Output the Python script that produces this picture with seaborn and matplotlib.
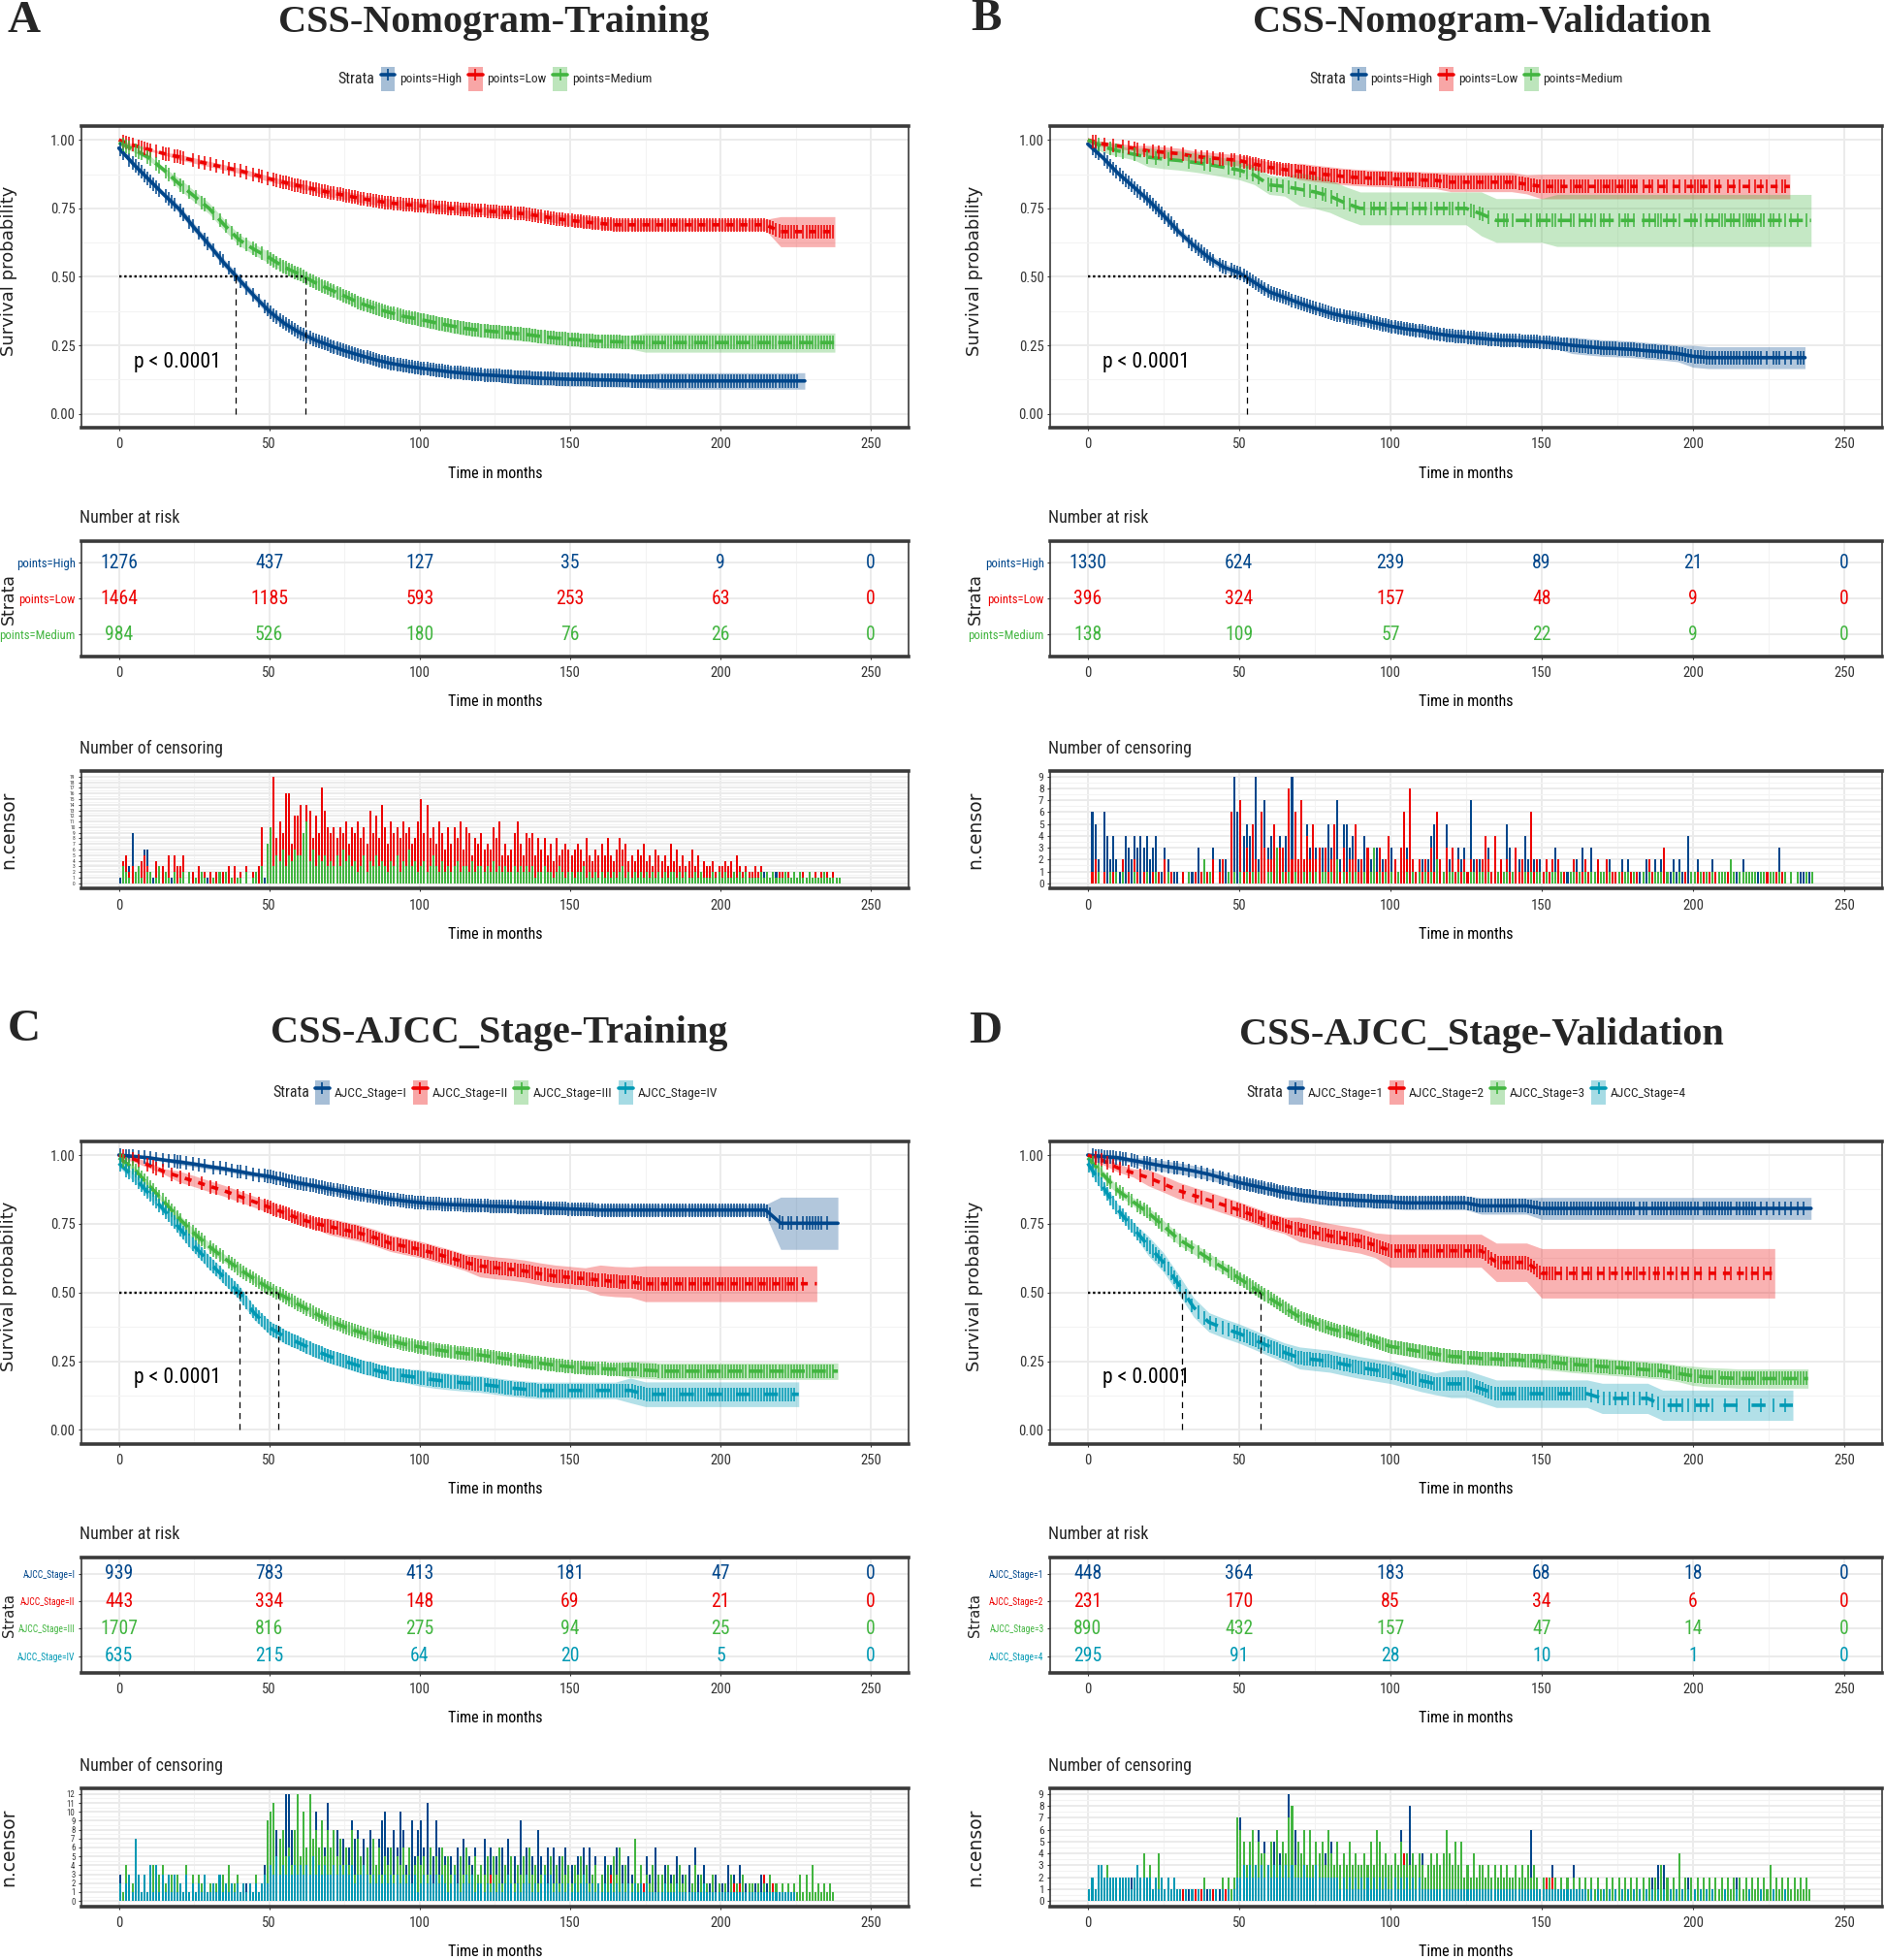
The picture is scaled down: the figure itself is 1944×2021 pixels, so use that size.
import numpy as np
import pandas as pd
import matplotlib
matplotlib.use("Agg")
import matplotlib.pyplot as plt
import seaborn as sns
from matplotlib import font_manager
from matplotlib.lines import Line2D
from matplotlib.patches import Patch

# ---------------- data ----------------
risk_times = [0, 50, 100, 150, 200, 250]
colors = ["#00468B", "#ED0000", "#42B540", "#0099B4"]
dash_styles = ["", (2, 2), (4, 2), (4, 4)]

# survival estimates on a 5-month grid (0, 5, 10, ...), flat to the last follow-up time
a_labels = ["points=High", "points=Low", "points=Medium"]
a_ends = [228, 238, 238]
a_medians = [38.7, 62]
a_high_surv = [0.97, 0.91, 0.855, 0.80, 0.748, 0.68, 0.617, 0.55, 0.49, 0.43,
               0.374, 0.33, 0.297, 0.27, 0.25, 0.23, 0.214, 0.198, 0.185, 0.175,
               0.167, 0.16, 0.153, 0.148, 0.143, 0.14, 0.136, 0.133, 0.13, 0.128,
               0.126, 0.125, 0.124, 0.123, 0.121] + [0.12] * 11
a_low_surv = [1.0, 0.98, 0.965, 0.95, 0.938, 0.925, 0.912, 0.90, 0.888, 0.873,
              0.858, 0.845, 0.832, 0.82, 0.808, 0.798, 0.787, 0.778, 0.77, 0.764,
              0.76, 0.755, 0.75, 0.746, 0.742, 0.738, 0.735, 0.73, 0.722, 0.713,
              0.706, 0.70, 0.695] + [0.69] * 11 + [0.665] * 4
a_med_surv = [0.99, 0.965, 0.935, 0.89, 0.84, 0.795, 0.75, 0.69, 0.635, 0.60,
              0.57, 0.535, 0.51, 0.48, 0.455, 0.43, 0.405, 0.385, 0.37, 0.355,
              0.345, 0.333, 0.322, 0.312, 0.305, 0.30, 0.295, 0.29, 0.283, 0.277,
              0.272, 0.268, 0.265, 0.263, 0.262] + [0.26] * 13
a_high_ci = [0.01] * 4 + [0.015] * 10 + [0.02] * 12 + [0.025] * 10 + [0.03] * 10
a_low_ci = [0.005] * 4 + [0.01] * 10 + [0.015] * 16 + [0.02] * 14 + [0.055] * 4
a_med_ci = [0.01] * 4 + [0.02] * 16 + [0.025] * 15 + [0.035] * 13
a_risk_high = [1276, 437, 127, 35, 9, 0]
a_risk_low = [1464, 1185, 593, 253, 63, 0]
a_risk_med = [984, 526, 180, 76, 26, 0]

b_labels = ["points=High", "points=Low", "points=Medium"]
b_ends = [237, 232, 239]
b_medians = [52.5]
b_high_surv = [0.985, 0.935, 0.878, 0.83, 0.78, 0.725, 0.665, 0.615, 0.57, 0.535,
               0.515, 0.48, 0.445, 0.425, 0.404, 0.385, 0.368, 0.355, 0.345, 0.332,
               0.32, 0.31, 0.303, 0.293, 0.285, 0.28, 0.275, 0.27, 0.268, 0.265,
               0.262, 0.257, 0.25, 0.245, 0.24, 0.238, 0.235, 0.23, 0.226, 0.22,
               0.21] + [0.205] * 7
b_low_surv = [1.0, 0.985, 0.978, 0.97, 0.96, 0.955, 0.95, 0.94, 0.935, 0.93,
              0.925, 0.912, 0.90, 0.892, 0.885, 0.878, 0.872, 0.866, 0.862, 0.86,
              0.858, 0.856, 0.854, 0.852] + [0.846] * 5 + [0.838] + [0.83] * 17
b_med_surv = [1.0, 0.975, 0.96, 0.948, 0.937, 0.93, 0.925, 0.918, 0.91, 0.90,
              0.89, 0.872, 0.836, 0.83, 0.82, 0.81, 0.795, 0.77] + [0.75] * 8 + [0.73] + [0.706] * 21
b_high_ci = [0.01] * 4 + [0.015] * 16 + [0.02] * 12 + [0.03] * 8 + [0.04] * 8
b_low_ci = [0.01] * 4 + [0.02] * 10 + [0.03] * 10 + [0.035] * 6 + [0.045] * 17
b_med_ci = [0.02] * 4 + [0.035] * 10 + [0.06] * 12 + [0.08] * 5 + [0.095] * 17
b_risk_high = [1330, 624, 239, 89, 21, 0]
b_risk_low = [396, 324, 157, 48, 9, 0]
b_risk_med = [138, 109, 57, 22, 9, 0]

c_labels = ["AJCC_Stage=I", "AJCC_Stage=II", "AJCC_Stage=III", "AJCC_Stage=IV"]
c_ends = [239, 232, 239, 226]
c_medians = [40, 53]
c_s1_surv = [1.0, 0.995, 0.99, 0.982, 0.975, 0.967, 0.958, 0.95, 0.94, 0.93,
             0.922, 0.91, 0.898, 0.888, 0.877, 0.867, 0.857, 0.848, 0.84, 0.833,
             0.827, 0.823, 0.82, 0.818, 0.816, 0.814, 0.812, 0.81, 0.808, 0.806,
             0.804, 0.802] + [0.80] * 12 + [0.752] * 4
c_s2_surv = [1.0, 0.985, 0.963, 0.94, 0.922, 0.905, 0.887, 0.87, 0.85, 0.83,
             0.81, 0.79, 0.768, 0.752, 0.74, 0.728, 0.716, 0.70, 0.68, 0.668,
             0.657, 0.642, 0.627, 0.61, 0.597, 0.59, 0.585, 0.578, 0.568, 0.56,
             0.555, 0.55, 0.545, 0.54, 0.538] + [0.532] * 12
c_s3_surv = [0.99, 0.95, 0.89, 0.83, 0.77, 0.715, 0.668, 0.625, 0.585, 0.55,
             0.515, 0.485, 0.455, 0.425, 0.397, 0.375, 0.356, 0.34, 0.325, 0.312,
             0.302, 0.293, 0.285, 0.278, 0.273, 0.265, 0.257, 0.25, 0.243, 0.236,
             0.23, 0.226, 0.223, 0.221, 0.22, 0.218] + [0.214] * 12
c_s4_surv = [0.97, 0.92, 0.86, 0.80, 0.736, 0.67, 0.61, 0.555, 0.50, 0.425,
             0.373, 0.34, 0.316, 0.29, 0.268, 0.25, 0.233, 0.218, 0.205, 0.197,
             0.19, 0.182, 0.176, 0.171, 0.167, 0.16, 0.153, 0.148] + [0.144] * 7 + [0.13] * 11
c_s1_ci = [0.005] * 4 + [0.01] * 10 + [0.015] * 10 + [0.02] * 20 + [0.095] * 4
c_s2_ci = [0.01] * 4 + [0.02] * 10 + [0.03] * 10 + [0.04] * 8 + [0.055] * 3 + [0.065] * 12
c_s3_ci = [0.01] * 4 + [0.015] * 16 + [0.02] * 14 + [0.03] * 14
c_s4_ci = [0.015] * 4 + [0.025] * 16 + [0.03] * 14 + [0.045] * 12
c_risk_s1 = [939, 783, 413, 181, 47, 0]
c_risk_s2 = [443, 334, 148, 69, 21, 0]
c_risk_s3 = [1707, 816, 275, 94, 25, 0]
c_risk_s4 = [635, 215, 64, 20, 5, 0]

d_labels = ["AJCC_Stage=1", "AJCC_Stage=2", "AJCC_Stage=3", "AJCC_Stage=4"]
d_ends = [239, 227, 238, 233]
d_medians = [31, 57]
d_s1_surv = [1.0, 0.995, 0.99, 0.98, 0.97, 0.96, 0.952, 0.942, 0.93, 0.915,
             0.90, 0.888, 0.876, 0.864, 0.855, 0.848, 0.842, 0.838, 0.835, 0.832,
             0.83] + [0.826] * 5 + [0.815] * 4 + [0.806] * 18
d_s2_surv = [1.0, 0.98, 0.953, 0.935, 0.918, 0.895, 0.871, 0.853, 0.836, 0.818,
             0.80, 0.78, 0.759, 0.744, 0.729, 0.718, 0.706, 0.697, 0.688, 0.672] + [0.652] * 7 + [0.61] * 3 + [0.57] * 16
d_s3_surv = [0.99, 0.93, 0.87, 0.83, 0.79, 0.742, 0.694, 0.66, 0.623, 0.588,
             0.552, 0.515, 0.48, 0.445, 0.41, 0.39, 0.369, 0.355, 0.34, 0.322,
             0.304, 0.295, 0.285, 0.276, 0.268, 0.264, 0.26, 0.258, 0.256, 0.253,
             0.25, 0.245, 0.239, 0.235, 0.231, 0.227, 0.223, 0.219, 0.215, 0.206,
             0.197, 0.192, 0.19] + [0.187] * 5
d_s4_surv = [0.97, 0.885, 0.80, 0.735, 0.67, 0.61, 0.53, 0.446, 0.392, 0.37,
             0.351, 0.328, 0.304, 0.282, 0.262, 0.256, 0.25, 0.238, 0.227, 0.218,
             0.209, 0.195, 0.18] + [0.168] * 3 + [0.15] + [0.132] * 7 + [0.115] * 4 + [0.09] * 9
d_s1_ci = [0.01] * 4 + [0.02] * 10 + [0.025] * 12 + [0.03] * 4 + [0.04] * 18
d_s2_ci = [0.015] * 4 + [0.03] * 10 + [0.045] * 6 + [0.06] * 7 + [0.07] * 3 + [0.09] * 16
d_s3_ci = [0.015] * 4 + [0.02] * 16 + [0.025] * 10 + [0.03] * 10 + [0.035] * 8
d_s4_ci = [0.02] * 4 + [0.035] * 10 + [0.04] * 10 + [0.05] * 10 + [0.055] * 13
d_risk_s1 = [448, 364, 183, 68, 18, 0]
d_risk_s2 = [231, 170, 85, 34, 6, 0]
d_risk_s3 = [890, 432, 157, 47, 14, 0]
d_risk_s4 = [295, 91, 28, 10, 1, 0]

# number censored per month (months 0..239), one base-36 digit per month
a_high_cens = ("1203912166" "2131023140" "1201201011" "0101201010" "1010102013" "2131213121"
               "1213121312" "2121312121" "1212131212" "1213121211" "2121312121" "1212121211"
               "2112121211" "1212112121" "1211212111" "1121211121" "1211121211" "1112111211"
               "1121111211" "1111211111" "1121111211" "1111211121" "1111110000" "0000000000")
a_low_cens = ("0452302453" "2040325053" "3500203020" "2020203030" "2030203a06" "0j8b9gg7cc"
              "e9ed8c9hda" "9a8a9b7a9b" "8a7d9c8ea7" "b9a8b9a78b" "f9e8a7b96a" "7a8b6a9587"
              "9676a8b575" "69b7598958" "6857485676" "5676485465" "7585468674" "5465745365"
              "4537463534" "6352433423" "3434253232" "2323121212" "2121210212" "1212121211")
a_med_cens = ("0321023102" "2013021020" "1202010210" "0102020101" "1020120307" "a354635465"
              "59b4635453" "4353645342" "3524353432" "4352436342" "3423532423" "2342332423"
              "3232423232" "2323232312" "2322123212" "2122312121" "2121212312" "1212121212"
              "1212212121" "1212111212" "1211212121" "1112121211" "1211212112" "1111211111")
b_high_cens = ("0652064242" "1243243434" "2341132111" "0101113111" "1302120196" "2454292173"
               "4434342932" "4153432325" "3572553412" "2432332213" "3213231212" "2124542152"
               "2132317212" "1231212153" "1221421212" "1111321111" "1213113121" "1121112121"
               "1111211212" "1112121141" "1211112111" "1121112111" "1110101130" "1010111010")
b_low_cens = ("0120010010" "0201021010" "0101020100" "0100010101" "0201200610" "7131521632"
              "2523318262" "7242523131" "2521312251" "2131213124" "1213628212" "1213162131"
              "3121212121" "2421412121" "1312116121" "1212121101" "2111210121" "1211111111"
              "1101021010" "3101010101" "1111010110" "0101010010" "1010100101" "1000000000")
b_med_cens = ("0001000101" "0100010001" "0010001000" "0001000020" "1000001010" "1010101001"
              "1030101010" "0101010110" "1020101010" "0101301010" "1010010101" "0101020101"
              "1010101101" "1010010110" "1000101011" "0101101001" "1010101101" "1010010110"
              "1001010111" "0101010001" "1010101011" "1021011111" "1011011010" "1010100101")
c_s1_cens = ("3021201010" "2010301021" "1020101010" "0101010101" "1020101046" "68847cc868"
             "58487a586b" "6585746978" "57686479a6" "586a846958" "96b4596354" "5364735462"
             "4736452637" "3549264538" "5263625362" "4254626352" "3524163425" "3514253162"
             "2413251324" "1631412131" "2141314121" "1213121001" "1011010121" "3121010000")
c_s2_cens = ("0100101001" "0110100100" "1001000100" "1010001001" "0101001023" "2a31213121"
             "2131421312" "1213121412" "1213121213" "1212131212" "1312121312" "1212121212"
             "1213121211" "2121212121" "1212121112" "1212121212" "1213121112" "1211212111"
             "1211121121" "1112111111" "1111212111" "1111313211" "1111110100" "0000000000")
c_s3_cens = ("2143242131" "2413421323" "2041313230" "2121304123" "1212131229" "ab5785648c"
             "5a6c786958" "6857464837" "5463746354" "6354636245" "4536253645" "3425364253"
             "4352536243" "5243526342" "3425242534" "2435142342" "3142536241" "2724132413"
             "3142314231" "2413121312" "1213121312" "2121213121" "2121213131" "4121212100")
c_s4_cens = ("2023173131" "4141313131" "2131212131" "1213121212" "1212121232" "4353435343"
             "4343534343" "3434343423" "3432323232" "3232323231" "2323232321" "2321232312"
             "2121212123" "2121232121" "2323121212" "1212321212" "1212121212" "1212121111"
             "1211121111" "1111211111" "1111111111" "1111111111" "1111100000" "0000000000")
d_s1_cens = ("0212121112" "1110211012" "1010101011" "0101010101" "0101101017" "7512316152"
             "3524329263" "2316252341" "5231425221" "2131214141" "2136138213" "4121312121"
             "2134121311" "2121312121" "1213216121" "1213111121" "3111211111" "1111111111"
             "1012102133" "3111111121" "1101111111" "1110211111" "1010101010" "1010101000")
d_s2_cens = ("0010101010" "1001000100" "0100010000" "0100010100" "0100010102" "3121412121"
             "2132121412" "1212131212" "1312121213" "2121212121" "1212412121" "2121212131"
             "2121212121" "1212121212" "1211212121" "1212101010" "1101011010" "1010101010"
             "1101010110" "1010101010" "1010010100" "1010010101" "0101010000" "0000000000")
d_s3_cens = ("0202303201" "1202103141" "3014201010" "1010101020" "1010202127" "6535625441"
             "5363547835" "4636354536" "4353435343" "3435365343" "3435343434" "3234343464"
             "3535232423" "3232323232" "2323232321" "2121212121" "2121212121" "1212121212"
             "1212121213" "1212141212" "1212121212" "1212121212" "1212131212" "1212121210")
d_s4_cens = ("1213322222" "2222123222" "2121212121" "1010101010" "1010101012" "2323232323"
             "2323232322" "2322232222" "2221212121" "2121212121" "1212121212" "1111111111"
             "1111111111" "1111111111" "1111111111" "1111111111" "1111101010" "1010101010"
             "1010101010" "1010101010" "1010101000" "1000100010" "0010001000" "1000000000")

panels = [
    dict(letter="A", title="CSS-Nomogram-Training", labels=a_labels, ends=a_ends, medians=a_medians,
         surv=[a_high_surv, a_low_surv, a_med_surv], ci=[a_high_ci, a_low_ci, a_med_ci],
         risk=[a_risk_high, a_risk_low, a_risk_med], cens=[a_high_cens, a_low_cens, a_med_cens],
         col=0, row=0, title_xy=(0.262, 0.9885), letter_xy=(0.004, 0.989)),
    dict(letter="B", title="CSS-Nomogram-Validation", labels=b_labels, ends=b_ends, medians=b_medians,
         surv=[b_high_surv, b_low_surv, b_med_surv], ci=[b_high_ci, b_low_ci, b_med_ci],
         risk=[b_risk_high, b_risk_low, b_risk_med], cens=[b_high_cens, b_low_cens, b_med_cens],
         col=1, row=0, title_xy=(0.786, 0.9885), letter_xy=(0.515, 0.990)),
    dict(letter="C", title="CSS-AJCC_Stage-Training", labels=c_labels, ends=c_ends, medians=c_medians,
         surv=[c_s1_surv, c_s2_surv, c_s3_surv, c_s4_surv], ci=[c_s1_ci, c_s2_ci, c_s3_ci, c_s4_ci],
         risk=[c_risk_s1, c_risk_s2, c_risk_s3, c_risk_s4], cens=[c_s1_cens, c_s2_cens, c_s3_cens, c_s4_cens],
         col=0, row=1, title_xy=(0.265, 0.4726), letter_xy=(0.004, 0.4745)),
    dict(letter="D", title="CSS-AJCC_Stage-Validation", labels=d_labels, ends=d_ends, medians=d_medians,
         surv=[d_s1_surv, d_s2_surv, d_s3_surv, d_s4_surv], ci=[d_s1_ci, d_s2_ci, d_s3_ci, d_s4_ci],
         risk=[d_risk_s1, d_risk_s2, d_risk_s3, d_risk_s4], cens=[d_s1_cens, d_s2_cens, d_s3_cens, d_s4_cens],
         col=1, row=1, title_xy=(0.786, 0.472), letter_xy=(0.514, 0.4735)),
]

# ---------------- layout ----------------
COL_X = [(0.0431, 0.4389), (0.557, 0.4415)]
ROW_Y = [[(0.7819, 0.1537), (0.6652, 0.0587), (0.5466, 0.0599)],
         [(0.2634, 0.1543), (0.1467, 0.0587), (0.0274, 0.0600)]]
LEGEND_Y = [0.9598, 0.4425]
YLAB_X = [0.0045, 0.5172]
FIG_W, FIG_H = 19.44, 20.21

sns.set_theme(style="white")
names = {f.name for f in font_manager.fontManager.ttflist}
NARROW, K = "DejaVu Sans", 0.76
for cand, k in [("Liberation Sans Narrow", 1.0), ("Roboto Condensed", 0.92),
                ("DejaVu Sans Condensed", 0.86), ("Liberation Sans", 0.82)]:
    if cand in names:
        NARROW, K = cand, k
        break
plt.rcParams["font.family"] = [NARROW, "DejaVu Sans"]
TXT = "#333333"


def counts(s):
    return np.array([int(ch, 36) for ch in s])


def style_axes(ax):
    ax.set_xlim(-12.5, 262.5)
    ax.set_xticks(range(0, 251, 50))
    ax.set_xticks(range(25, 251, 50), minor=True)
    ax.grid(which="major", color="#EBEBEB", lw=1.4)
    ax.grid(which="minor", color="#F3F3F3", lw=0.8)
    ax.set_axisbelow(True)
    ax.set_facecolor("white")
    for name, sp in ax.spines.items():
        sp.set_visible(True)
        sp.set_color("#3A3A3A")
        sp.set_linewidth(2.6 if name in ("top", "bottom") else 1.2)
    ax.tick_params(which="major", length=2.5, width=0.8, color=TXT, labelcolor=TXT,
                   labelsize=11.5 * K, pad=2, bottom=True, left=True)
    ax.tick_params(axis="x", pad=5)
    ax.tick_params(which="minor", length=0)
    ax.set_xlabel("")
    ax.set_ylabel("")
    ax.annotate("Time in months", xy=(0.5, 0), xycoords="axes fraction", xytext=(0, -34),
                textcoords="offset points", ha="center", va="center", fontsize=12.5 * K, color="black")


fig = plt.figure(figsize=(FIG_W, FIG_H), dpi=100)
legend_items = []

for p in panels:
    x0, w = COL_X[p["col"]]
    rows = ROW_Y[p["row"]]
    labels = p["labels"]
    n = len(labels)
    cols = colors[:n]
    pal = dict(zip(labels, cols))
    dmap = dict(zip(labels, dash_styles[:n]))

    # ---- survival curves ----
    ax = fig.add_axes([x0, rows[0][0], w, rows[0][1]])
    frames = []
    for lab, sv, ci, end in zip(labels, p["surv"], p["ci"], p["ends"]):
        t = np.append(np.arange(len(sv)) * 5.0, end)
        s = np.append(sv, sv[-1])
        h = np.append(ci, ci[-1])
        ax.fill_between(t, np.clip(s - h, 0, 1), np.clip(s + h, 0, 1), color=pal[lab], alpha=0.3, lw=0)
        frames.append(pd.DataFrame({"time": t, "surv": s, "strata": lab}))
    df = pd.concat(frames, ignore_index=True)
    sns.lineplot(data=df, x="time", y="surv", hue="strata", style="strata", hue_order=labels,
                 style_order=labels, palette=pal, dashes=dmap, estimator=None, sort=False,
                 linewidth=2.6, legend=False, ax=ax)
    for lab, cs, end in zip(labels, p["cens"], p["ends"]):
        cnt = counts(cs)
        tc = np.nonzero(cnt)[0] + 0.5
        tc = tc[tc <= end]
        sub = df[df["strata"] == lab]
        ax.plot(tc, np.interp(tc, sub["time"], sub["surv"]), ls="none", marker="|", ms=10,
                mew=1.1, color=pal[lab], zorder=3)
    meds = p["medians"]
    ax.plot([0, max(meds)], [0.5, 0.5], color="black", lw=1.7, ls=(0, (1, 1.2)), zorder=4)
    for m in meds:
        ax.plot([m, m], [0, 0.5], color="black", lw=0.9, ls=(0, (5, 4)), zorder=4)
    ax.text(5, 0.19, "p < 0.0001", fontsize=17 * K, va="center", ha="left", color="black")
    style_axes(ax)
    ax.set_ylim(-0.05, 1.05)
    ax.set_yticks([0, 0.25, 0.5, 0.75, 1.0])
    ax.set_yticklabels(["0.00", "0.25", "0.50", "0.75", "1.00"])
    ax.set_yticks([0.125, 0.375, 0.625, 0.875], minor=True)
    fig.text(YLAB_X[p["col"]], rows[0][0] + rows[0][1] * 0.52, "Survival probability", rotation=90,
             ha="center", va="center", fontsize=13, family="DejaVu Sans", color="#222222")

    # ---- number at risk table ----
    axr = fig.add_axes([x0, rows[1][0], w, rows[1][1]])
    for i, (lab, vals) in enumerate(zip(labels, p["risk"])):
        for tm, v in zip(risk_times, vals):
            axr.text(tm, i + 1, str(v), ha="center", va="center", fontsize=15.5 * K, color=pal[lab])
    style_axes(axr)
    axr.set_ylim(n + 0.6, 0.4)
    axr.set_yticks(range(1, n + 1))
    axr.set_yticklabels(labels)
    axr.tick_params(axis="y", labelsize=(10 if n == 3 else 7.5) * K)
    for tl, c in zip(axr.get_yticklabels(), cols):
        tl.set_color(c)
    axr.annotate("Number at risk", xy=(0, 1), xycoords="axes fraction", xytext=(-1, 17),
                 textcoords="offset points", ha="left", va="center", fontsize=14 * K)
    fig.text(YLAB_X[p["col"]] + 0.0002, rows[1][0] + rows[1][1] * 0.5, "Strata", rotation=90,
             ha="center", va="center", fontsize=12.5 if n == 3 else 10.5, family="DejaVu Sans",
             color="#222222")

    # ---- number of censoring ----
    axc = fig.add_axes([x0, rows[2][0], w, rows[2][1]])
    ymax = 0
    for lab, cs in zip(labels, p["cens"]):
        cnt = counts(cs)
        ymax = max(ymax, int(cnt.max()))
        cdf = pd.DataFrame({"month": np.arange(len(cnt)) + 0.5, "n": cnt})
        sns.histplot(data=cdf, x="month", weights="n", binwidth=1, binrange=(0, len(cnt)),
                     color=pal[lab], alpha=1.0, linewidth=0, shrink=0.65, ax=axc)
    style_axes(axc)
    axc.set_ylim(-0.05 * ymax, 1.05 * ymax)
    axc.set_yticks(range(0, ymax + 1))
    axc.set_yticks(np.arange(0.5, ymax, 1.0), minor=True)
    # one label per count: shrink the labels so neighbouring ones do not collide
    px_per_unit = rows[2][1] * FIG_H * 100 / (1.1 * ymax)
    axc.tick_params(axis="y", labelsize=min(9 * K, px_per_unit * 0.95 / 1.389))
    axc.annotate("Number of censoring", xy=(0, 1), xycoords="axes fraction", xytext=(-1, 17),
                 textcoords="offset points", ha="left", va="center", fontsize=14 * K)
    fig.text(YLAB_X[p["col"]], rows[2][0] + rows[2][1] * 0.5, "n.censor", rotation=90,
             ha="center", va="center", fontsize=13.5, family="DejaVu Sans", color="#222222")

    # ---- titles ----
    fig.text(*p["title_xy"], p["title"], ha="center", va="center", fontsize=29,
             family="Liberation Serif", weight="bold")
    fig.text(*p["letter_xy"], p["letter"], ha="left", va="center", fontsize=34,
             family="Liberation Serif", weight="bold")

    # ---- legend ----
    handles = [(Patch(facecolor=c, alpha=0.35, edgecolor="none"),
                Line2D([], [], color=c, lw=2.6, marker="+", ms=9, mew=1.2))
               for c in cols]
    ly = LEGEND_Y[p["row"]]
    leg = fig.legend(handles, labels, loc="center", bbox_to_anchor=(x0 + w / 2, ly), ncol=n,
                     frameon=False, fontsize=10.5 * K, handlelength=1.1, handleheight=2.5,
                     handletextpad=0.35, columnspacing=0.5, borderpad=0, borderaxespad=0)
    st = fig.text(x0 + w / 2, ly, "Strata", ha="left", va="center", fontsize=12.5 * K)
    legend_items.append((leg, st, x0 + w / 2, ly))

fig.canvas.draw()
W = fig.get_figwidth() * fig.dpi
for leg, st, cx, ly in legend_items:
    lb = leg.get_window_extent()
    sb = st.get_window_extent()
    gap = 6
    total = sb.width + gap + lb.width
    left = cx * W - total / 2
    st.set_x(left / W)
    leg.set_bbox_to_anchor(((left + sb.width + gap + lb.width / 2) / W, ly), transform=fig.transFigure)

fig.savefig("out.png", dpi=100)
